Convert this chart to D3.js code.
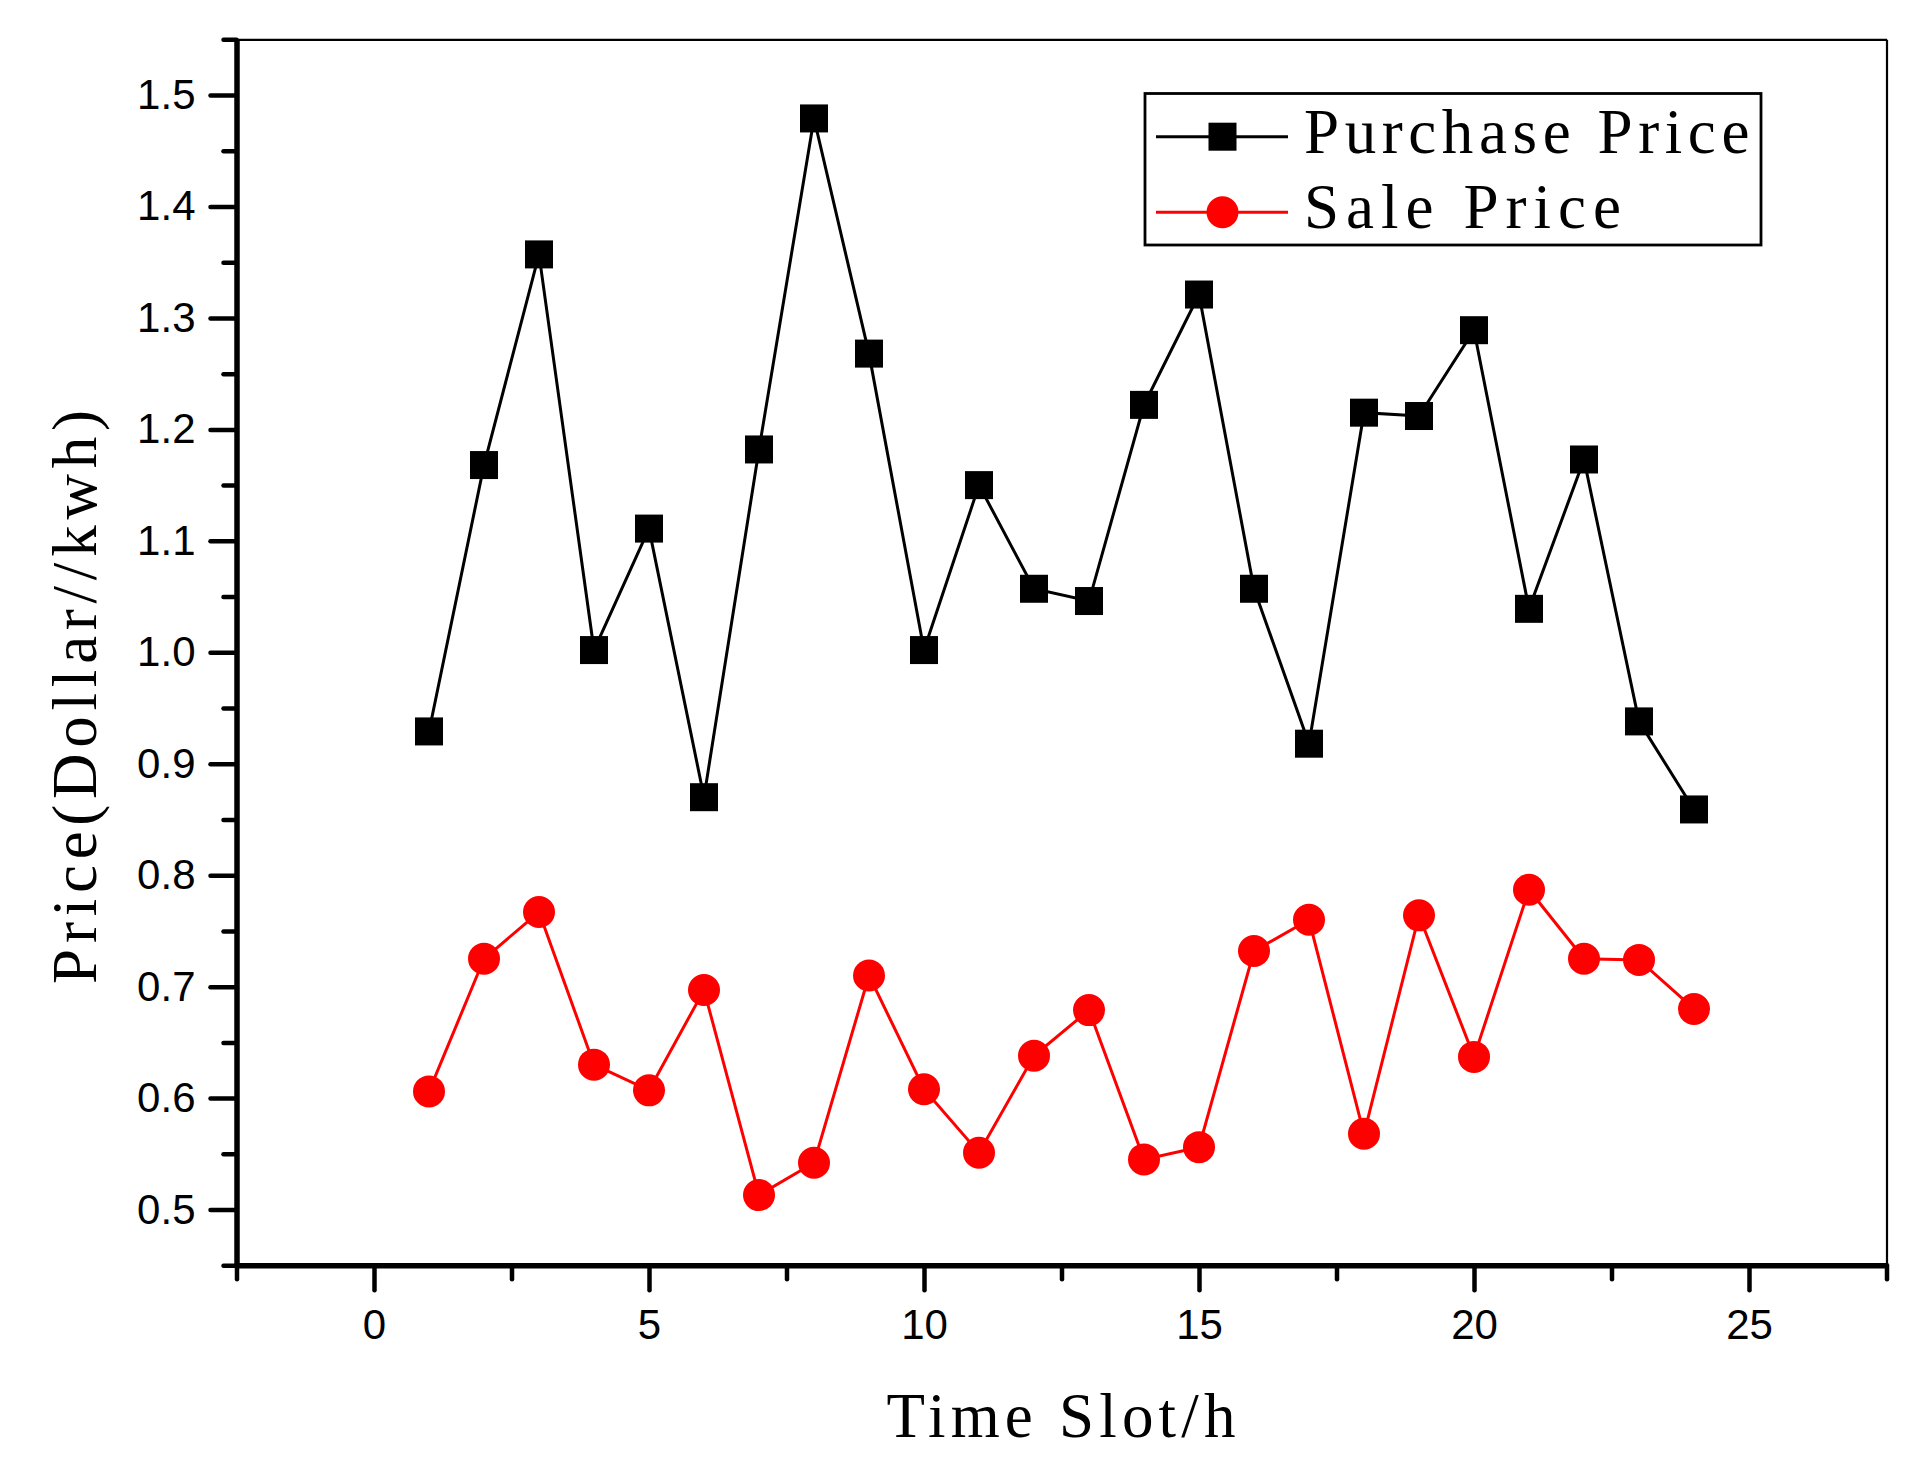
<!DOCTYPE html>
<html>
<head>
<meta charset="utf-8">
<script src="https://cdn.jsdelivr.net/npm/d3@7/dist/d3.min.js"></script>
<style>
  html, body { margin: 0; padding: 0; background: #fff; }
  svg { display: block; }
</style>
</head>
<body>
<svg id="chart" width="1928" height="1466"></svg>
<script>
// ---- data ----
const hours = [1,2,3,4,5,6,7,8,9,10,11,12,13,14,15,16,17,18,19,20,21,22,23,24];
const purchasePrice = [0.929,1.168,1.357,1.002,1.111,0.870,1.182,1.479,1.268,1.002,1.150,1.057,
                       1.046,1.222,1.321,1.057,0.918,1.215,1.212,1.289,1.039,1.173,0.938,0.859];
const salePrice = [0.606,0.725,0.767,0.630,0.607,0.697,0.513,0.542,0.710,0.608,0.551,0.638,
                   0.679,0.545,0.556,0.732,0.760,0.568,0.764,0.637,0.787,0.725,0.724,0.680];
const xMajorTicks = [0,5,10,15,20,25];
const xMinorTicks = [-2.5,2.5,7.5,12.5,17.5,22.5,27.5];
const yMajorTicks = [0.5,0.6,0.7,0.8,0.9,1.0,1.1,1.2,1.3,1.4,1.5];
const yMinorTicks = [0.45,0.55,0.65,0.75,0.85,0.95,1.05,1.15,1.25,1.35,1.45,1.55];
const seriesNames = ["Purchase Price", "Sale Price"];
const xTitle = "Time Slot/h";
const yTitle = "Price(Dollar//kwh)";

// ---- layout ----
const svg = d3.select("#chart");
const x = d3.scaleLinear().domain([-2.5, 27.5]).range([236.5, 1886.5]);
const y = d3.scaleLinear().domain([0.45, 1.55]).range([1265.3, 39.3]);
const x0 = x.range()[0], x1 = x.range()[1];
const y0 = y.range()[0], y1 = y.range()[1];
const tickFont = "Liberation Sans, Arial, sans-serif";
const titleFont = "Liberation Serif, Times New Roman, serif";
const titleSize = 63;
const charW = 32.1; // monospaced advance of the original title font

// top & right thin frame
svg.append("g").attr("transform", `translate(0,${y1})`)
  .call(d3.axisTop(x).tickValues([]).tickSizeOuter(0))
  .call(g => g.select(".domain").attr("stroke", "#000").attr("stroke-width", 2.2));
svg.append("g").attr("transform", `translate(${x1},0)`)
  .call(d3.axisRight(y).tickValues([]).tickSizeOuter(0))
  .call(g => g.select(".domain").attr("stroke", "#000").attr("stroke-width", 2.2));

// bottom axis
const gxMinor = svg.append("g").attr("transform", `translate(0,${y0})`)
  .call(d3.axisBottom(x).tickValues(xMinorTicks).tickSize(14).tickSizeOuter(0).tickFormat(""));
gxMinor.select(".domain").remove();
gxMinor.selectAll(".tick line").attr("stroke", "#000").attr("stroke-width", 4.5).attr("stroke-linecap", "round");

const gx = svg.append("g").attr("transform", `translate(0,${y0})`)
  .call(d3.axisBottom(x).tickValues(xMajorTicks).tickSize(25).tickSizeOuter(0).tickPadding(19).tickFormat(d3.format("d")));
gx.select(".domain").attr("stroke", "#000").attr("stroke-width", 5.5);
gx.selectAll(".tick line").attr("stroke", "#000").attr("stroke-width", 4.5).attr("stroke-linecap", "round");
gx.selectAll(".tick text").attr("font-family", tickFont).attr("font-size", 42).attr("fill", "#000");

// left axis
const gyMinor = svg.append("g").attr("transform", `translate(${x0},0)`)
  .call(d3.axisLeft(y).tickValues(yMinorTicks).tickSize(13).tickSizeOuter(0).tickFormat(""));
gyMinor.select(".domain").remove();
gyMinor.selectAll(".tick line").attr("stroke", "#000").attr("stroke-width", 4.5).attr("stroke-linecap", "round");

const gy = svg.append("g").attr("transform", `translate(${x0},0)`)
  .call(d3.axisLeft(y).tickValues(yMajorTicks).tickSize(26).tickSizeOuter(0).tickPadding(15).tickFormat(d3.format(".1f")));
gy.select(".domain").attr("stroke", "#000").attr("stroke-width", 5.5);
gy.selectAll(".tick line").attr("stroke", "#000").attr("stroke-width", 4.5).attr("stroke-linecap", "round");
gy.selectAll(".tick text").attr("font-family", tickFont).attr("font-size", 42).attr("fill", "#000");

// ---- series ----
const line = d3.line().x((d, i) => x(hours[i])).y(d => y(d));

svg.append("path").datum(purchasePrice)
  .attr("d", line).attr("fill", "none").attr("stroke", "#000").attr("stroke-width", 3);
svg.append("path").datum(salePrice)
  .attr("d", line).attr("fill", "none").attr("stroke", "#ff0000").attr("stroke-width", 3);

const sq = 28;
svg.append("g").selectAll("rect").data(purchasePrice).join("rect")
  .attr("x", (d, i) => x(hours[i]) - sq / 2)
  .attr("y", d => y(d) - sq / 2)
  .attr("width", sq).attr("height", sq).attr("fill", "#000");

svg.append("g").selectAll("circle").data(salePrice).join("circle")
  .attr("cx", (d, i) => x(hours[i]))
  .attr("cy", d => y(d))
  .attr("r", 16).attr("fill", "#ff0000");

// ---- titles ----
function monoText(sel, str) {
  return sel.attr("font-family", titleFont).attr("font-size", titleSize).attr("fill", "#000")
    .attr("textLength", str.length * charW - 4).attr("lengthAdjust", "spacing")
    .text(str);
}

monoText(svg.append("text")
  .attr("transform", `translate(1061,1437)`)
  .attr("text-anchor", "middle"), xTitle);

monoText(svg.append("text")
  .attr("transform", `translate(96,697) rotate(-90)`)
  .attr("text-anchor", "middle"), yTitle);

// ---- legend ----
const legend = svg.append("g");
legend.append("rect")
  .attr("x", 1145).attr("y", 93.5).attr("width", 616).attr("height", 151.5)
  .attr("fill", "#fff").attr("stroke", "#000").attr("stroke-width", 2.8);

const legRows = [
  { name: seriesNames[0], color: "#000", marker: "square", ly: 136.7, by: 153.3 },
  { name: seriesNames[1], color: "#ff0000", marker: "circle", ly: 212.3, by: 228.3 }
];
legRows.forEach(r => {
  legend.append("line").attr("x1", 1156).attr("x2", 1288).attr("y1", r.ly).attr("y2", r.ly)
    .attr("stroke", r.color).attr("stroke-width", 3);
  if (r.marker === "square") {
    legend.append("rect").attr("x", 1222.5 - sq / 2).attr("y", r.ly - sq / 2)
      .attr("width", sq).attr("height", sq).attr("fill", r.color);
  } else {
    legend.append("circle").attr("cx", 1222.5).attr("cy", r.ly).attr("r", 16).attr("fill", r.color);
  }
  monoText(legend.append("text")
    .attr("transform", `translate(1304,${r.by})`), r.name);
});
</script>
</body>
</html>
